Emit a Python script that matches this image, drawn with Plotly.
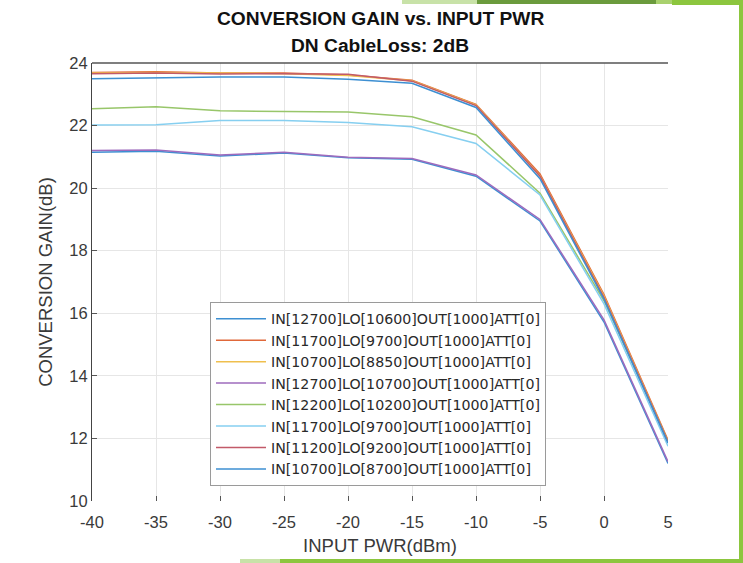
import plotly.graph_objects as go

# ---------------- data ----------------
input_pwr = [-40, -35, -30, -25, -20, -15, -10, -5, 0, 5]

series_names = [
    "IN[12700]LO[10600]OUT[1000]ATT[0]",
    "IN[11700]LO[9700]OUT[1000]ATT[0]",
    "IN[10700]LO[8850]OUT[1000]ATT[0]",
    "IN[12700]LO[10700]OUT[1000]ATT[0]",
    "IN[12200]LO[10200]OUT[1000]ATT[0]",
    "IN[11700]LO[9700]OUT[1000]ATT[0]",
    "IN[11200]LO[9200]OUT[1000]ATT[0]",
    "IN[10700]LO[8700]OUT[1000]ATT[0]",
]

gain_12700_10600 = [21.15, 21.18, 21.03, 21.12, 20.97, 20.92, 20.38, 18.95, 15.72, 11.20]
gain_11700_9700a = [23.70, 23.72, 23.68, 23.68, 23.62, 23.45, 22.68, 20.45, 16.60, 11.95]
gain_10700_8850 = [23.68, 23.70, 23.68, 23.66, 23.60, 23.43, 22.66, 20.40, 16.55, 11.90]
gain_12700_10700 = [21.20, 21.22, 21.06, 21.15, 20.99, 20.95, 20.42, 19.00, 15.79, 11.26]
gain_12200_10200 = [22.54, 22.60, 22.47, 22.45, 22.43, 22.28, 21.70, 19.84, 16.40, 11.90]
gain_11700_9700b = [22.02, 22.03, 22.16, 22.16, 22.10, 21.96, 21.43, 19.78, 16.30, 11.75]
gain_11200_9200 = [23.66, 23.68, 23.65, 23.66, 23.64, 23.42, 22.64, 20.38, 16.50, 11.88]
gain_10700_8700 = [23.50, 23.53, 23.55, 23.55, 23.48, 23.35, 22.58, 20.30, 16.45, 11.85]

series_values = [
    gain_12700_10600, gain_11700_9700a, gain_10700_8850, gain_12700_10700,
    gain_12200_10200, gain_11700_9700b, gain_11200_9200, gain_10700_8700,
]

x_ticks = [-40, -35, -30, -25, -20, -15, -10, -5, 0, 5]
y_ticks = [10, 12, 14, 16, 18, 20, 22, 24]

colors = ["#3d8fd2", "#e0683a", "#efbf4e", "#9e6bbd",
          "#98c66a", "#86cff0", "#c25a69", "#3d8fd2"]

# ---------------- layout geometry ----------------
W, H = 743, 563
L, R, T, B = 92, 668, 63, 501
PW, PH = R - L, B - T


def px2x(p):
    return (p - L) / PW


def py2y(p):
    return 1 - (p - T) / PH


fig = go.Figure()
for name, vals, col in zip(series_names, series_values, colors):
    fig.add_trace(go.Scatter(x=input_pwr, y=vals, mode="lines", name=name,
                             line=dict(color=col, width=1.5)))

font_family = "Liberation Sans, Arial, sans-serif"

fig.update_layout(
    width=W, height=H,
    margin=dict(l=L, r=W - R, t=T, b=H - B, autoexpand=False),
    paper_bgcolor="white", plot_bgcolor="white",
    font=dict(family=font_family, color="#3a3a3a"),
    showlegend=True,
    legend=dict(
        x=px2x(210), y=py2y(302), xanchor="left", yanchor="top",
        bgcolor="white", bordercolor="#9a9a9a", borderwidth=1,
        font=dict(size=14.2, color="#2a2a2a", family="DejaVu Sans, sans-serif"),
        tracegroupgap=0, itemwidth=50,
    ),
    xaxis=dict(
        range=[-40, 5], tickvals=x_ticks, ticktext=[str(v) for v in x_ticks],
        showgrid=True, gridcolor="#e6e6e6", gridwidth=1, zeroline=False,
        showline=False, ticks="inside", ticklen=5, tickcolor="#555555",
        ticklabelstandoff=9,
        tickfont=dict(size=16.5, color="#3a3a3a"),
        title=dict(text="INPUT PWR(dBm)", font=dict(size=18.5, color="#3a3a3a"),
                   standoff=9),
    ),
    yaxis=dict(
        range=[10, 24], tickvals=y_ticks, ticktext=[str(v) for v in y_ticks],
        showgrid=True, gridcolor="#e6e6e6", gridwidth=1, zeroline=False,
        showline=True, linecolor="#444444", linewidth=1.2,
        ticks="inside", ticklen=5, tickcolor="#555555",
        tickfont=dict(size=16.5, color="#3a3a3a"),
        title=dict(text="CONVERSION GAIN(dB)", font=dict(size=18.5, color="#3a3a3a"),
                   standoff=11),
    ),
)

# Titles
fig.add_annotation(text="<b>CONVERSION GAIN vs. INPUT PWR</b>", xref="paper", yref="paper",
                   x=0.5, y=py2y(18), xanchor="center", yanchor="middle", showarrow=False,
                   font=dict(size=19.2, color="#111111", family=font_family))
fig.add_annotation(text="<b>DN CableLoss: 2dB</b>", xref="paper", yref="paper",
                   x=0.5, y=py2y(45), xanchor="center", yanchor="middle", showarrow=False,
                   font=dict(size=19.2, color="#111111", family=font_family))

shapes = []
# top box line
shapes.append(dict(type="line", xref="paper", yref="paper", x0=0, x1=1, y0=1, y1=1,
                   line=dict(color="#555555", width=1.5)))


def rect(x0, x1, y0, y1, color):
    shapes.append(dict(type="rect", xref="paper", yref="paper",
                       x0=px2x(x0), x1=px2x(x1), y0=py2y(y1), y1=py2y(y0),
                       line=dict(width=0), fillcolor=color, layer="above"))


# slide decoration bars
rect(402, 477, 0, 4, "#c8e2a8")
rect(477, 656, 0, 4, "#6b9b3d")
rect(656, 672, 0, 4, "#a9d16e")
rect(672, 743, 0, 5, "#8cc63e")
rect(739, 743, 0, 563, "#8cc63e")
rect(240, 280, 559, 563, "#c8e2a8")
rect(280, 743, 559, 563, "#8cc63e")
fig.update_layout(shapes=shapes)

fig.write_html("out.html", config={"displayModeBar": False},
               post_script="document.body.style.margin='0px';")
